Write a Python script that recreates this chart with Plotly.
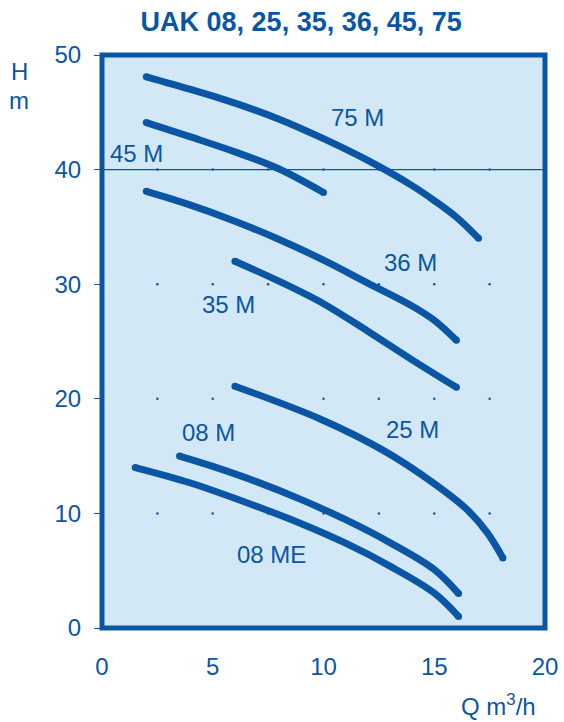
import plotly.graph_objects as go

# ---- data ----
q_75 = [2.0, 4.0, 6.0, 8.0, 10.0, 12.0, 14.0, 15.0, 16.0, 17.0]
h_75 = [48.1, 47.0, 45.8, 44.4, 42.7, 40.8, 38.6, 37.3, 35.85, 34.0]

q_45 = [2.0, 4.0, 6.0, 8.0, 10.0]
h_45 = [44.1, 42.85, 41.55, 40.05, 38.0]

q_36 = [2.0, 4.0, 6.0, 8.0, 10.0, 12.0, 14.0, 15.0, 16.0]
h_36 = [38.1, 36.9, 35.5, 33.9, 32.1, 30.1, 28.1, 26.85, 25.1]

q_35 = [6.0, 8.0, 10.0, 12.0, 14.0, 16.0]
h_35 = [32.0, 30.25, 28.3, 25.9, 23.4, 21.0]

q_25 = [6.0, 9.9, 12.7, 15.0, 16.5, 17.4, 18.1]
h_25 = [21.1, 18.2, 15.5, 12.6, 10.3, 8.3, 6.1]

q_08m = [3.5, 5.0, 7.0, 9.0, 11.0, 13.0, 15.0, 16.1]
h_08m = [15.0, 14.1, 12.75, 11.2, 9.45, 7.45, 5.1, 3.0]

q_08me = [1.5, 4.0, 7.0, 9.0, 11.0, 13.0, 15.0, 16.1]
h_08me = [14.0, 12.65, 10.6, 9.1, 7.4, 5.4, 3.05, 1.0]

series = [
    ("75 M", q_75, h_75),
    ("45 M", q_45, h_45),
    ("36 M", q_36, h_36),
    ("35 M", q_35, h_35),
    ("25 M", q_25, h_25),
    ("08 M", q_08m, h_08m),
    ("08 ME", q_08me, h_08me),
]

# label positions (Q, H)
label_names = ["75 M", "45 M", "36 M", "35 M", "25 M", "08 M", "08 ME"]
label_q = [11.53, 1.56, 13.95, 5.71, 14.04, 4.79, 7.63]
label_h = [44.55, 41.4, 31.87, 28.25, 17.35, 17.04, 6.41]

x_ticks = [0, 5, 10, 15, 20]
y_ticks = [0, 10, 20, 30, 40, 50]
grid_q = [2.5, 5, 7.5, 10, 12.5, 15, 17.5]
grid_h = [10, 20, 30, 40]
ref_h = 40

BLUE = "#0A56A4"
BG = "#D3E8F6"
FONT = "Liberation Sans, Arial, sans-serif"

fig = go.Figure()

# grid dots
gx = [q for h in grid_h for q in grid_q]
gy = [h for h in grid_h for q in grid_q]
fig.add_trace(go.Scatter(x=gx, y=gy, mode="markers",
                         marker=dict(size=2.5, color=BLUE), hoverinfo="skip",
                         showlegend=False))

for name, q, h in series:
    fig.add_trace(go.Scatter(x=q, y=h, mode="lines", name=name,
                             line=dict(color=BLUE, width=7, shape="spline", smoothing=1.0),
                             showlegend=False))
    fig.add_trace(go.Scatter(x=[q[0], q[-1]], y=[h[0], h[-1]], mode="markers",
                             marker=dict(size=7, color=BLUE), showlegend=False,
                             hoverinfo="skip"))

for name, lq, lh in zip(label_names, label_q, label_h):
    fig.add_annotation(x=lq, y=lh, text=name, showarrow=False,
                       font=dict(family=FONT, size=24, color=BLUE),
                       xanchor="center", yanchor="middle")

# reference line at 40 m
fig.add_shape(type="line", xref="x", yref="y", x0=-0.3, x1=20, y0=ref_h, y1=ref_h,
              line=dict(color=BLUE, width=1.3), layer="below")

# frame
fig.add_shape(type="rect", xref="x domain", yref="y domain", x0=0, x1=1, y0=0, y1=1,
              line=dict(color=BLUE, width=5), layer="above")

# axis titles
fig.add_annotation(xref="paper", yref="paper", x=-0.187, y=0.971, text="H",
                   showarrow=False, xanchor="center", yanchor="middle",
                   font=dict(family=FONT, size=24, color=BLUE))
fig.add_annotation(xref="paper", yref="paper", x=-0.187, y=0.921, text="m",
                   showarrow=False, xanchor="center", yanchor="middle",
                   font=dict(family=FONT, size=24, color=BLUE))
fig.add_annotation(xref="paper", yref="paper", x=0.895, y=-0.134,
                   text="Q m<sup>3</sup>/h", showarrow=False,
                   xanchor="center", yanchor="middle",
                   font=dict(family=FONT, size=24, color=BLUE))

fig.update_layout(
    width=564, height=722, autosize=False,
    margin=dict(l=102, r=19, t=55, b=94),
    paper_bgcolor="white", plot_bgcolor=BG,
    title=dict(text="<b>UAK 08, 25, 35, 36, 45, 75</b>", xref="container", yref="container",
               x=0.534, y=1 - 22 / 722, xanchor="center", yanchor="middle",
               font=dict(family=FONT, size=27, color=BLUE)),
    font=dict(family=FONT, size=24, color=BLUE),
)
fig.update_xaxes(range=[0, 20], tickvals=x_ticks, showgrid=False, zeroline=False,
                 showline=False, ticks="", ticklabelstandoff=22, automargin=False,
                 tickfont=dict(family=FONT, size=24, color=BLUE))
fig.update_yaxes(range=[0, 50], tickvals=y_ticks, showgrid=False, zeroline=False,
                 showline=False, ticks="outside", ticklen=7, tickwidth=1, tickcolor=BLUE,
                 ticklabelstandoff=8, automargin=False,
                 tickfont=dict(family=FONT, size=24, color=BLUE))

fig.write_html("out.html", config={"displayModeBar": False},
               post_script="document.body.style.margin='0';")
